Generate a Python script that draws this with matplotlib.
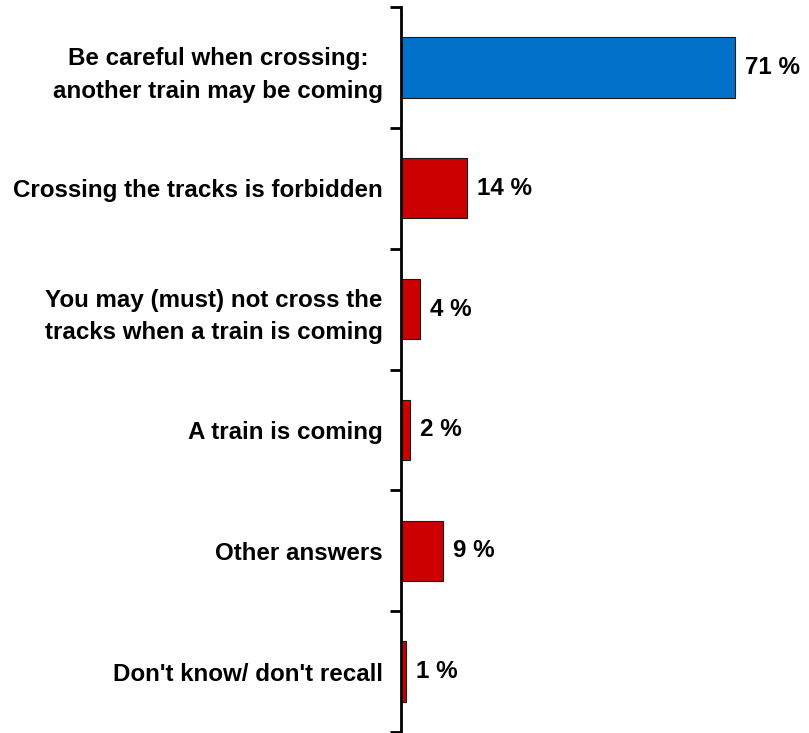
import matplotlib
matplotlib.use("Agg")
import matplotlib.pyplot as plt
import numpy as np

categories = [
    "Be careful when crossing:\nanother train may be coming",
    "Crossing the tracks is forbidden",
    "You may (must) not cross the\ntracks when a train is coming",
    "A train is coming",
    "Other answers",
    "Don't know/ don't recall",
]
values = [71, 14, 4, 2, 9, 1]
bar_colors = ["#0070C8", "#CC0000", "#CC0000", "#CC0000", "#CC0000", "#CC0000"]

plt.rcParams["font.family"] = ["Liberation Sans", "DejaVu Sans"]

fig = plt.figure(figsize=(8.09, 7.33), dpi=100)
ax = fig.add_axes([401 / 809, 1 / 733, 408 / 809, 725 / 733])

y = np.arange(len(categories))
ax.barh(y, values, height=0.5, color=bar_colors, edgecolor="#1a1a1a", linewidth=0.8)

for yi, v in zip(y, values):
    ax.text(v + 2.1, yi, f"{v} %", va="center", ha="left",
            fontsize=17.4, fontweight="bold")

ax.set_xlim(0, 86.8)
ax.set_ylim(len(categories) - 0.5, -0.5)
ax.set_yticks(y)
ax.set_yticklabels(categories, fontsize=17.4, fontweight="bold", ha="right",
                   multialignment="center", linespacing=1.55)
ax.set_yticks(np.arange(-0.5, len(categories)), minor=True)
ax.tick_params(axis="y", which="major", length=0, pad=13)
ax.tick_params(axis="y", which="minor", length=8, width=2, direction="out")
ax.set_xticks([])

for side in ["top", "right", "bottom"]:
    ax.spines[side].set_visible(False)
ax.spines["left"].set_linewidth(2)

fig.savefig("out.png", dpi=100)
